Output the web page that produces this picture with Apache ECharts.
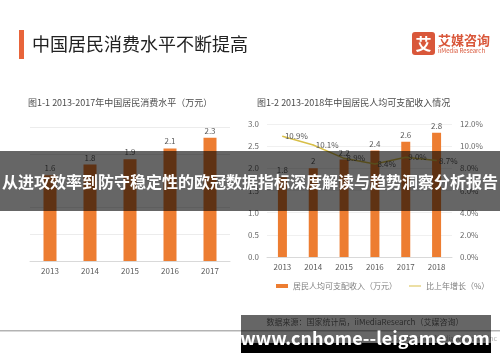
<!DOCTYPE html>
<html><head><meta charset="utf-8">
<script src="https://cdn.jsdelivr.net/npm/echarts@6/dist/echarts.min.js"></script>
<style>html,body{margin:0;padding:0;background:#fff}#c{width:500px;height:362px}</style>
</head><body><div id="c"></div>
<script>
const leftYears = ['2013','2014','2015','2016','2017'];
const consumption = [1.6, 1.8, 1.9, 2.1, 2.3];
const rightYears = ['2013','2014','2015','2016','2017','2018'];
const income = [1.8, 2, 2.2, 2.4, 2.6, 2.8];
const growth = [10.9, 10.1, 8.9, 8.4, 9.0, 8.7];
const incomeName = '居民人均可支配收入（万元）';
const growthName = '比上年增长（%）';

const FONT = '"Noto Sans CJK SC", "Noto Sans", sans-serif';
const ORANGE = '#ed7d31';
const GOLD = '#d8bf48';
const TXT = '#595959';

const chart = echarts.init(document.getElementById('c'), null, {renderer: 'canvas'});
function txt(x, y, text, size, color, align, weight, z) {
  return {type: 'text', z: z || 10, style: {x: x, y: y, text: text, fill: color,
    font: (weight || 'normal') + ' ' + size + 'px ' + FONT,
    align: align || 'left', textAlign: align || 'left', verticalAlign: 'middle', textVerticalAlign: 'middle'}};
}
const option = {
  animation: false,
  textStyle: {fontFamily: FONT},
  legend: {
    left: 271, top: 277, itemWidth: 12, itemHeight: 4, itemGap: 12,
    textStyle: {fontSize: 8, color: '#7f7f7f', fontFamily: FONT},
    data: [{name: incomeName, icon: 'rect'}, {name: growthName, icon: 'path://M0,0 L24,0 L24,2 L0,2 Z', itemStyle: {color: GOLD}}]
  },
  grid: [
    {left: 30, right: 270, top: 127, bottom: 101},
    {left: 267, right: 48, top: 124, bottom: 105}
  ],
  xAxis: [
    {gridIndex: 0, type: 'category', data: leftYears,
     axisLine: {lineStyle: {color: '#d9d9d9'}}, axisTick: {show: false},
     axisLabel: {color: TXT, fontSize: 8, margin: 6}},
    {gridIndex: 1, type: 'category', data: rightYears,
     axisLine: {lineStyle: {color: '#d9d9d9'}}, axisTick: {show: false},
     axisLabel: {color: TXT, fontSize: 8, margin: 6}}
  ],
  yAxis: [
    {gridIndex: 0, type: 'value', min: 0, max: 2.5, interval: 0.5,
     axisLabel: {show: false}, axisLine: {show: false}, axisTick: {show: false},
     splitLine: {lineStyle: {color: '#ececec'}}},
    {gridIndex: 1, type: 'value', min: 0, max: 3, interval: 0.5, position: 'left',
     axisLabel: {show: true, color: '#6a6a6a', fontSize: 8, margin: 8, formatter: function (v) { return Number(v).toFixed(1); }},
     axisLine: {show: false}, axisTick: {show: false},
     splitLine: {lineStyle: {color: '#f0f0f0'}}},
    {gridIndex: 1, type: 'value', min: 0, max: 12, interval: 2, position: 'right',
     axisLabel: {show: true, color: '#6a6a6a', fontSize: 8, margin: 8, formatter: function (v) { return Number(v).toFixed(1) + '%'; }},
     axisLine: {show: false}, axisTick: {show: false}, splitLine: {show: false}}
  ],
  series: [
    {type: 'bar', name: '消费水平', xAxisIndex: 0, yAxisIndex: 0, data: consumption, barWidth: 13,
     itemStyle: {color: ORANGE},
     label: {show: true, position: 'top', distance: 3, color: TXT, fontSize: 8}},
    {type: 'bar', name: incomeName, xAxisIndex: 1, yAxisIndex: 1, data: income, barWidth: 9,
     itemStyle: {color: ORANGE},
     label: {show: true, position: 'top', distance: 3, color: TXT, fontSize: 8}},
    {type: 'line', name: growthName, xAxisIndex: 1, yAxisIndex: 2, data: growth, z: 3,
     symbol: 'circle', symbolSize: 1, showSymbol: true,
     lineStyle: {color: GOLD, width: 1.5}, itemStyle: {color: GOLD},
     label: {show: true, position: 'right', distance: 2, color: TXT, fontSize: 8,
       formatter: function (p) { return Number(p.value).toFixed(1) + '%'; }}}
  ],
  graphic: [
    {type: 'rect', z: 2, shape: {x: 19, y: 30, width: 5, height: 29}, style: {fill: '#e8643a'}},
    txt(32, 44, '中国居民消费水平不断提高', 18, '#222222', 'left', 'normal', 10),
    {type: 'rect', z: 10, shape: {x: 412, y: 32, width: 23, height: 23, r: 3}, style: {fill: '#d9573a'}},
    txt(423.5, 43.5, '艾', 16, '#ffffff', 'center', 'bold', 11),
    txt(438, 40, '艾媒咨询', 13, '#d9573a', 'left', 'bold', 10),
    txt(438, 51, 'iiMedia Research', 6, '#d9573a', 'left', 'normal', 10),
    txt(28, 103, '图1-1 2013-2017年中国居民消费水平（万元）', 9, '#4a4a4a', 'left', 'normal', 10),
    txt(257, 103, '图1-2 2013-2018年中国居民人均可支配收入情况', 9, '#4a4a4a', 'left', 'normal', 10),
    {type: 'rect', z: 10, shape: {x: 0, y: 330, width: 500, height: 1.5}, style: {fill: '#b3b3b3'}},
    txt(497, 338, 'Copyright © iiMedia Research Inc', 7, '#b0b0b0', 'right', 'normal', 10),
    {type: 'rect', z: 100, shape: {x: 0, y: 151, width: 500, height: 60}, style: {fill: 'rgba(0,0,0,0.6)'}},
    txt(250, 182, '从进攻效率到防守稳定性的欧冠数据指标深度解读与趋势洞察分析报告', 16, '#ffffff', 'center', 'bold', 101),
    {type: 'rect', z: 100, shape: {x: 241, y: 315, width: 250, height: 28}, style: {fill: 'rgba(0,0,0,0.6)'}},
    {type: 'rect', z: 100, shape: {x: 241, y: 343, width: 250, height: 10}, style: {fill: '#000000'}},
    txt(365, 322, '数据来源：国家统计局，iiMediaResearch（艾媒咨询）', 8, '#2a2a2a', 'center', 'normal', 101),
    txt(365, 338, 'www.cnhome--leigame.com', 18, '#ffffff', 'center', 'bold', 101)
  ]
};
chart.setOption(option);
</script></body></html>
